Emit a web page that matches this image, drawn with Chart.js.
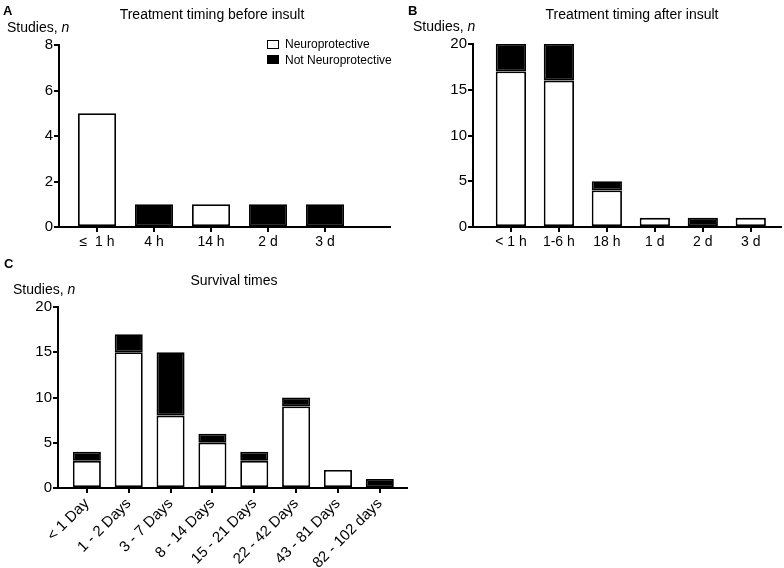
<!DOCTYPE html>
<html><head><meta charset="utf-8">
<script src="https://cdn.jsdelivr.net/npm/chart.js@4"></script>
<style>
body{margin:0;background:#fff;width:784px;height:568px;position:relative;overflow:hidden;font-family:'Liberation Sans',Arial,sans-serif;color:#000}
canvas{position:absolute}
.t{position:absolute;white-space:nowrap;line-height:1}
.box{position:absolute;width:10px;height:7px;border:1.5px solid #000}
</style></head><body>
<canvas id="ca" width="400" height="250" style="left:0;top:0"></canvas>
<canvas id="cb" width="384" height="250" style="left:400px;top:0"></canvas>
<canvas id="cc" width="420" height="318" style="left:0;top:250px"></canvas>

<div class="t" style="left:3px;top:4px;font-size:13px;font-weight:bold">A</div>
<div class="t" style="left:212px;top:7px;font-size:14px;transform:translateX(-50%)">Treatment timing before insult</div>
<div class="t" style="left:7px;top:20px;font-size:14px">Studies, <i>n</i></div>
<div class="box" style="left:267px;top:40px;background:#fff"></div>
<div class="t" style="left:285px;top:38px;font-size:12px">Neuroprotective</div>
<div class="box" style="left:267px;top:55px;background:#000"></div>
<div class="t" style="left:285px;top:54px;font-size:12px">Not Neuroprotective</div>

<div class="t" style="left:408px;top:4px;font-size:13px;font-weight:bold">B</div>
<div class="t" style="left:632px;top:7px;font-size:14px;transform:translateX(-50%)">Treatment timing after insult</div>
<div class="t" style="left:413px;top:19px;font-size:14px">Studies, <i>n</i></div>

<div class="t" style="left:4px;top:257px;font-size:13px;font-weight:bold">C</div>
<div class="t" style="left:234px;top:273px;font-size:14px;transform:translateX(-50%)">Survival times</div>
<div class="t" style="left:13px;top:282px;font-size:14px">Studies, <i>n</i></div>

<script>
// Panel A: treatment timing before insult
const labelsA = ['\u2264  1 h', '4 h', '14 h', '2 d', '3 d'];
const neuroA = [5, 0, 1, 0, 0];
const notNeuroA = [0, 1, 0, 1, 1];
const yTicksA = [0, 2, 4, 6, 8];

// Panel B: treatment timing after insult
const labelsB = ['< 1 h', '1-6 h', '18 h', '1 d', '2 d', '3 d'];
const neuroB = [17, 16, 4, 1, 0, 1];
const notNeuroB = [3, 4, 1, 0, 1, 0];
const yTicksB = [0, 5, 10, 15, 20];

// Panel C: survival times
const labelsC = ['< 1 Day', '1 - 2 Days', '3 - 7 Days', '8 - 14 Days', '15 - 21 Days', '22 - 42 Days', '43 - 81 Days', '82 - 102 days'];
const neuroC = [3, 15, 8, 5, 3, 9, 2, 0];
const notNeuroC = [1, 2, 7, 1, 1, 1, 0, 1];
const yTicksC = [0, 5, 10, 15, 20];

const FONT = "'Liberation Sans', Arial, sans-serif";

function pts(vals) {
  return vals.map((v, i) => ({x: i, y: v === 0 ? null : v}));
}

function makeChart(id, labels, neuro, notNeuro, yTicks, o) {
  const ymax = yTicks[yTicks.length - 1];
  new Chart(document.getElementById(id), {
    type: 'bar',
    data: {
      datasets: [
        {label: 'Neuroprotective', data: pts(neuro), backgroundColor: '#fff', borderColor: '#000', borderWidth: 1.8, borderSkipped: false,
         categoryPercentage: 1, barPercentage: o.barPct},
        {label: 'Not Neuroprotective', data: pts(notNeuro), backgroundColor: '#000', borderColor: '#000', borderWidth: 1.8, borderSkipped: false,
         categoryPercentage: 1, barPercentage: o.barPct}
      ]
    },
    options: {
      responsive: false,
      animation: false,
      layout: {padding: {top: o.padTop, right: o.padRight, left: 0, bottom: 0}},
      plugins: {legend: {display: false}, tooltip: {enabled: false}},
      scales: {
        x: {
          type: 'linear', stacked: true, min: o.xmin, max: o.xmax, offset: false,
          afterBuildTicks: (s) => { s.ticks = labels.map((l, i) => ({value: i})); },
          afterFit: (s) => { s.height = o.xH; },
          grid: {offset: false, drawOnChartArea: false, drawTicks: true, tickLength: 5, color: '#000', lineWidth: 2},
          border: {color: '#000', width: 2},
          ticks: {
            color: '#000', font: {family: FONT, size: o.xFont}, padding: 2,
            autoSkip: false, maxRotation: o.rot, minRotation: o.rot,
            callback: (v) => labels[v]
          }
        },
        y: {
          stacked: true, min: 0, max: ymax,
          afterBuildTicks: (s) => { s.ticks = yTicks.map(v => ({value: v})); },
          afterFit: (s) => { s.width = o.yW; },
          grid: {drawOnChartArea: false, drawTicks: true, tickLength: 5, color: '#000', lineWidth: 2},
          border: {color: '#000', width: 2},
          ticks: {color: '#000', font: {family: FONT, size: 15}, padding: 1}
        }
      }
    }
  });
}

makeChart('ca', labelsA, neuroA, notNeuroA, yTicksA,
  {xmin: -0.667, xmax: 5.14, barPct: 0.667, padTop: 45, padRight: 10, yW: 59, xH: 23, xFont: 14, rot: 0});
makeChart('cb', labelsB, neuroB, notNeuroB, yTicksB,
  {xmin: -0.79, xmax: 5.63, barPct: 0.63, padTop: 44, padRight: 3, yW: 73, xH: 23, xFont: 14, rot: 0});
makeChart('cc', labelsC, neuroC, notNeuroC, yTicksC,
  {xmin: -0.69, xmax: 7.65, barPct: 0.67, padTop: 57, padRight: 13, yW: 58, xH: 80, xFont: 15, rot: 45});
</script>
</body></html>
